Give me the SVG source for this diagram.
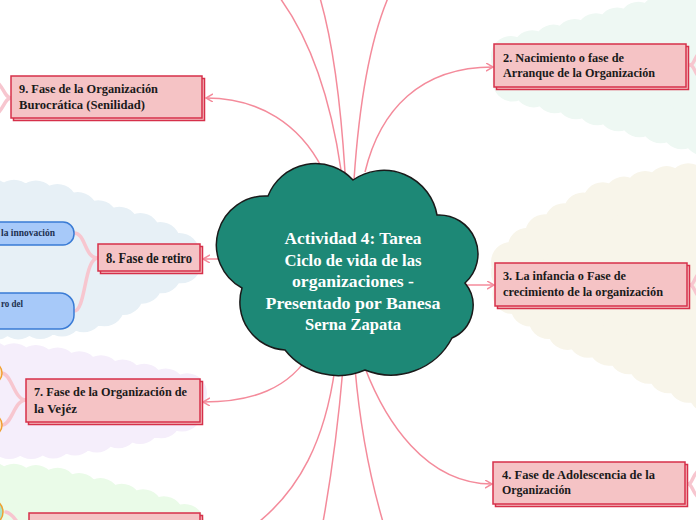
<svg xmlns="http://www.w3.org/2000/svg" width="696" height="520" viewBox="0 0 696 520">
<defs>
<style>
.bg{stroke-dasharray:0 22;stroke-linecap:round;stroke-linejoin:round;stroke-width:40}
.conn{fill:none;stroke:#f48b9b;stroke-width:1.5}
.branch{fill:none;stroke:#f7c6cf;stroke-width:3.5;stroke-linecap:round}
.box{fill:#f5c3c5;stroke:#d6304a;stroke-width:1.5}
.lbl{font-family:"Liberation Serif",serif;font-weight:bold;font-size:13px;fill:#1a1a1a}
.ctr{font-family:"Liberation Serif",serif;font-weight:bold;font-size:17px;fill:#ffffff;text-anchor:middle}
.child{fill:#a7c9f9;stroke:#3a7bd5;stroke-width:1.5}
.ctxt{font-family:"Liberation Serif",serif;font-weight:bold;font-size:10px;fill:#1d3050}
.dot{stroke:#f0a030;stroke-width:1.5}
</style>
<marker id="arr" markerUnits="userSpaceOnUse" markerWidth="10" markerHeight="10" refX="7" refY="4" orient="auto">
<path d="M0,0 L7,4 L0,8" fill="none" stroke="#f48b9b" stroke-width="1.5"/>
</marker>
</defs>

<g id="backgrounds">
<path class="bg" fill="#eef8f3" stroke="#eef8f3" d="M511,56 L720,0 L720,140 L511,81 Z"/>
<path class="bg" fill="#f8f5ea" stroke="#f8f5ea" d="M511,262 L540,237 L600,203 L660,187 L720,179 L720,398 L620,350 L560,327 L511,293 Z"/>
<path class="bg" fill="#e7f0f6" stroke="#e7f0f6" d="M-30,198 L50,201 L100,221 L150,236 L190,259 L150,279 L100,309 L50,319 L-30,320 Z"/>
<path class="bg" fill="#f5eefb" stroke="#f5eefb" d="M-30,360 L50,366 L100,375 L150,385 L187,393 L187,410 L150,422 L100,432 L50,439 L-30,439 Z"/>
<path class="bg" fill="#eafbe8" stroke="#eafbe8" d="M-30,481 L50,486 L100,498 L150,511 L187,525 L187,570 L-30,570 Z"/>
</g>

<g id="connectors">
<path class="conn" d="M341,170 Q325,60 280,-2"/>
<path class="conn" d="M345,172 Q338,60 320,-2"/>
<path class="conn" d="M354,180 Q362,60 388,-2"/>
<path class="conn" d="M322,168 C300,125 260,98 206,98" marker-end="url(#arr)"/>
<path class="conn" d="M365,172 C380,110 420,67 493,67" marker-end="url(#arr)"/>
<path class="conn" d="M462,285 L494,285" marker-end="url(#arr)"/>
<path class="conn" d="M365,368 C385,420 425,484 492,484" marker-end="url(#arr)"/>
<path class="conn" d="M312,350 C290,390 250,402 203,402" marker-end="url(#arr)"/>
<path class="conn" d="M219,259 L203,259" marker-end="url(#arr)"/>
<path class="conn" d="M335,368 C325,440 300,490 255,525"/>
<path class="conn" d="M343,368 Q336,450 323,522"/>
<path class="conn" d="M355,368 Q362,450 383,522"/>
<path class="branch" d="M98,258 C84,258 86,233 74,233"/>
<path class="branch" d="M98,258 C84,258 86,311 74,311"/>
<path class="branch" d="M11,98 C5,98 4,88 -3,82"/>
<path class="branch" d="M11,98 C5,98 4,108 -3,114"/>
<path class="branch" d="M26,400 C14,400 12,374 2,373"/>
<path class="branch" d="M26,400 C14,400 12,425 2,425"/>
<path class="branch" d="M29,530 C18,530 16,514 6,512"/>
<path class="branch" d="M690,65 C694,65 694,58 699,53"/>
<path class="branch" d="M690,65 C694,65 694,72 699,77"/>
<path class="branch" d="M690,285 C694,285 694,278 699,273"/>
<path class="branch" d="M690,285 C694,285 694,292 699,297"/>
<path class="branch" d="M688,484 C692,484 692,477 697,472"/>
<path class="branch" d="M688,484 C692,484 692,491 697,496"/>
</g>

<g id="node-7-1">
<circle class="dot" cx="-9" cy="373" r="11" fill="#fde3c4"/>
</g>
<g id="node-7-2">
<circle class="dot" cx="-9" cy="425" r="11" fill="#fde3c4"/>
</g>
<g id="node-6-1">
<circle class="dot" cx="-10" cy="512" r="13" fill="#a8e4c9"/>
</g>
<g id="node-8-1">
<rect class="child" x="-30" y="222" width="104" height="23" rx="11"/>
<text class="ctxt" x="1" y="236" textLength="54" lengthAdjust="spacingAndGlyphs">la innovación</text>
</g>
<g id="node-8-2">
<rect class="child" x="-30" y="293" width="104" height="36" rx="14"/>
<text class="ctxt" x="1" y="307" textLength="22" lengthAdjust="spacingAndGlyphs">ro del</text>
</g>

<g id="node-9">
<rect class="box" x="13.5" y="78.5" width="191" height="42"/>
<rect class="box" x="11" y="76" width="191" height="42"/>
<text class="lbl" x="19" y="93" textLength="139" lengthAdjust="spacingAndGlyphs">9. Fase de la Organización</text>
<text class="lbl" x="19" y="109" textLength="126" lengthAdjust="spacingAndGlyphs">Burocrática (Senilidad)</text>
</g>
<g id="node-2">
<rect class="box" x="496.5" y="46.5" width="192" height="43"/>
<rect class="box" x="494" y="44" width="192" height="43"/>
<text class="lbl" x="503" y="62" textLength="121" lengthAdjust="spacingAndGlyphs">2. Nacimiento o fase de</text>
<text class="lbl" x="503" y="77" textLength="152" lengthAdjust="spacingAndGlyphs">Arranque de la Organización</text>
</g>
<g id="node-3">
<rect class="box" x="497.5" y="265.5" width="192" height="43"/>
<rect class="box" x="495" y="263" width="192" height="43"/>
<text class="lbl" x="503" y="280" textLength="123" lengthAdjust="spacingAndGlyphs">3. La infancia o Fase de</text>
<text class="lbl" x="503" y="296" textLength="160" lengthAdjust="spacingAndGlyphs">crecimiento de la organización</text>
</g>
<g id="node-4">
<rect class="box" x="495.5" y="464.5" width="192" height="42"/>
<rect class="box" x="493" y="462" width="192" height="42"/>
<text class="lbl" x="502" y="479" textLength="153" lengthAdjust="spacingAndGlyphs">4. Fase de Adolescencia de la</text>
<text class="lbl" x="502" y="494" textLength="69" lengthAdjust="spacingAndGlyphs">Organización</text>
</g>
<g id="node-7">
<rect class="box" x="28.5" y="381.5" width="174" height="43"/>
<rect class="box" x="26" y="379" width="174" height="43"/>
<text class="lbl" x="34" y="396" textLength="153" lengthAdjust="spacingAndGlyphs">7. Fase de la Organización de</text>
<text class="lbl" x="34" y="413" textLength="43" lengthAdjust="spacingAndGlyphs">la Vejéz</text>
</g>
<g id="node-8">
<rect class="box" x="100.5" y="246.5" width="102" height="27"/>
<rect class="box" x="98" y="244" width="102" height="27"/>
<text class="lbl" x="106" y="263" style="font-size:14px" textLength="86" lengthAdjust="spacingAndGlyphs">8. Fase de retiro</text>
</g>
<g id="node-6">
<rect class="box" x="31.5" y="515.5" width="171" height="30"/>
<rect class="box" x="29" y="513" width="171" height="30"/>
</g>

<g id="center">
<path d="M268,196 A51,51 0 0 1 353,180 A54,54 0 0 1 437,215 A39,39 0 0 1 465,283 A35.5,35.5 0 0 1 452,338 A69,69 0 0 1 365,370 A68,68 0 0 1 285,350 A48,48 0 0 1 242,288 A49,49 0 0 1 268,196 Z" fill="#1d8876" stroke="#1a1a1a" stroke-width="1.5"/>
<text class="ctr" x="353" y="244" textLength="137" lengthAdjust="spacingAndGlyphs">Actividad 4: Tarea</text>
<text class="ctr" x="353" y="265.5" textLength="137" lengthAdjust="spacingAndGlyphs">Ciclo de vida de las</text>
<text class="ctr" x="353" y="287" textLength="122" lengthAdjust="spacingAndGlyphs">organizaciones -</text>
<text class="ctr" x="353" y="308.5" textLength="175" lengthAdjust="spacingAndGlyphs">Presentado por Banesa</text>
<text class="ctr" x="353" y="330" textLength="96" lengthAdjust="spacingAndGlyphs">Serna Zapata</text>
</g>
</svg>
